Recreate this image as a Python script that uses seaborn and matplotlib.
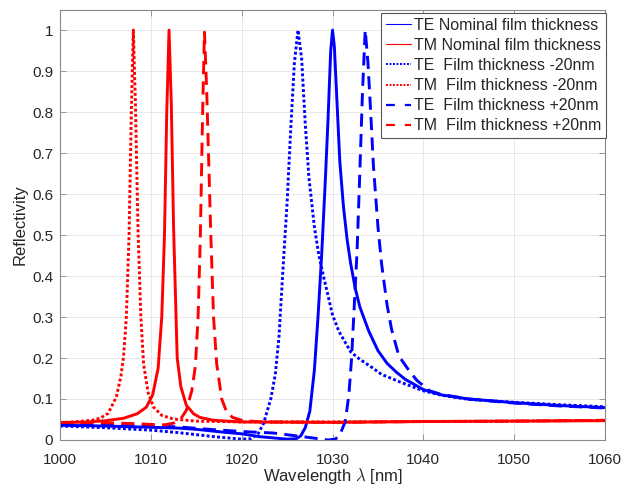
import matplotlib
matplotlib.use("Agg")
import matplotlib.pyplot as plt
import pandas as pd
import seaborn as sns

# Reflectivity spectra of the grating for TE / TM polarisation at three film thicknesses
te_nom_wl = [1000, 1005, 1010, 1013, 1015, 1018, 1020, 1022, 1024, 1025,
             1026, 1026.5, 1027, 1027.5, 1028, 1028.4, 1028.8, 1029.2, 1029.5, 1029.8,
             1030, 1030.2, 1030.5, 1030.8, 1031.2, 1031.6, 1032, 1032.5, 1033, 1034,
             1035, 1036, 1037, 1038, 1040, 1042, 1045, 1050, 1055, 1060]
te_nom_r = [0.036, 0.034, 0.031, 0.029, 0.026, 0.019, 0.015, 0.008, 0.004, 0.002,
            0.003, 0.010, 0.030, 0.070, 0.170, 0.300, 0.450, 0.630, 0.780, 0.950,
            1.000, 0.960, 0.820, 0.680, 0.570, 0.490, 0.430, 0.370, 0.325, 0.265,
            0.218, 0.187, 0.166, 0.148, 0.123, 0.110, 0.100, 0.091, 0.084, 0.079]

tm_nom_wl = [1000, 1003, 1005, 1007, 1008.5, 1009.5, 1010.2, 1010.8, 1011.2, 1011.5,
             1011.75, 1012, 1012.25, 1012.5, 1012.9, 1013.3, 1013.9, 1014.7, 1015.4, 1016.9,
             1020, 1030, 1040, 1050, 1060]
tm_nom_r = [0.042, 0.044, 0.047, 0.053, 0.064, 0.080, 0.110, 0.175, 0.300, 0.500,
            0.800, 1.000, 0.820, 0.520, 0.200, 0.130, 0.085, 0.064, 0.055, 0.048,
            0.044, 0.043, 0.045, 0.046, 0.047]

te_thin_wl = [1000, 1005, 1010, 1013, 1017, 1020, 1021, 1021.8, 1022.4, 1022.8,
              1023.2, 1023.7, 1024.1, 1024.5, 1025, 1025.4, 1025.8, 1026.2, 1026.6, 1027,
              1027.4, 1028, 1028.5, 1029, 1030, 1030.7, 1032, 1033, 1034.4, 1035.4,
              1037.6, 1040, 1042, 1045, 1050, 1055, 1060]
te_thin_r = [0.034, 0.030, 0.024, 0.018, 0.008, 0.002, 0.003, 0.015, 0.040, 0.070,
             0.100, 0.160, 0.250, 0.400, 0.580, 0.760, 0.920, 1.000, 0.930, 0.770,
             0.640, 0.520, 0.450, 0.400, 0.305, 0.265, 0.215, 0.197, 0.176, 0.160,
             0.140, 0.120, 0.109, 0.099, 0.092, 0.086, 0.081]

tm_thin_wl = [1000, 1002, 1003.5, 1004.4, 1005.3, 1006.2, 1006.7, 1007, 1007.3, 1007.6,
              1007.85, 1008.07, 1008.3, 1008.6, 1008.9, 1009.2, 1009.7, 1010.3, 1011.2, 1012.5,
              1015, 1020, 1030, 1040, 1050, 1060]
tm_thin_r = [0.042, 0.045, 0.048, 0.053, 0.065, 0.105, 0.155, 0.205, 0.300, 0.500,
             0.800, 1.000, 0.820, 0.500, 0.300, 0.185, 0.115, 0.080, 0.060, 0.051,
             0.046, 0.044, 0.044, 0.045, 0.046, 0.048]

te_thick_wl = [1000, 1005, 1010, 1013, 1017, 1020.6, 1023.5, 1026, 1028.5, 1029.5,
               1030.3, 1030.8, 1031.4, 1031.8, 1032.1, 1032.4, 1032.7, 1033, 1033.3, 1033.6,
               1033.9, 1034.2, 1034.5, 1035, 1035.4, 1036, 1036.5, 1037.3, 1038.4, 1039.3,
               1040.7, 1042, 1045, 1050, 1055, 1060]
te_thick_r = [0.037, 0.036, 0.034, 0.032, 0.025, 0.020, 0.017, 0.010, 0.003, 0.000,
              0.002, 0.012, 0.045, 0.110, 0.200, 0.330, 0.460, 0.650, 0.850, 1.000,
              0.920, 0.800, 0.670, 0.520, 0.430, 0.330, 0.270, 0.205, 0.170, 0.145,
              0.120, 0.111, 0.100, 0.090, 0.083, 0.078]

tm_thick_wl = [1000, 1005, 1008, 1010, 1011.5, 1012.5, 1013.3, 1013.9, 1014.5, 1014.9,
               1015.2, 1015.45, 1015.7, 1015.9, 1016.15, 1016.6, 1016.9, 1017.25, 1017.8, 1018.35,
               1019, 1020, 1022, 1030, 1040, 1050, 1060]
tm_thick_r = [0.043, 0.042, 0.040, 0.038, 0.037, 0.041, 0.052, 0.072, 0.120, 0.180,
              0.300, 0.500, 0.800, 0.995, 0.850, 0.500, 0.300, 0.185, 0.100, 0.068,
              0.055, 0.048, 0.044, 0.043, 0.045, 0.046, 0.048]

curve_labels = ["TE Nominal film thickness",
                "TM Nominal film thickness",
                "TE  Film thickness -20nm",
                "TM  Film thickness -20nm",
                "TE  Film thickness +20nm",
                "TM  Film thickness +20nm"]

x_ticks = [1000, 1010, 1020, 1030, 1040, 1050, 1060]
y_ticks = [0, 0.1, 0.2, 0.3, 0.4, 0.5, 0.6, 0.7, 0.8, 0.9, 1.0]
y_tick_labels = ["0", "0.1", "0.2", "0.3", "0.4", "0.5", "0.6", "0.7", "0.8", "0.9", "1"]

series = [(te_nom_wl, te_nom_r), (tm_nom_wl, tm_nom_r),
          (te_thin_wl, te_thin_r), (tm_thin_wl, tm_thin_r),
          (te_thick_wl, te_thick_r), (tm_thick_wl, tm_thick_r)]

frames = []
for label, (wl, r) in zip(curve_labels, series):
    frames.append(pd.DataFrame({"wavelength": wl, "reflectivity": r, "curve": label}))
data = pd.concat(frames, ignore_index=True)

sns.set_theme(style="whitegrid")
plt.rcParams["font.family"] = ["Liberation Sans", "DejaVu Sans"]
plt.rcParams["mathtext.fontset"] = "cm"

colors = ["#0000ff", "#ff0000", "#0000ff", "#ff0000", "#0000ff", "#ff0000"]
styles = ["-", "-", (0, (1.0, 0.8)), (0, (1.0, 0.8)), (0, (4.5, 2.5)), (0, (4.5, 2.5))]

fig = plt.figure(figsize=(6.24, 4.88), dpi=100)
ax = fig.add_axes([0.0962, 0.0984, 0.8734, 0.8811])

for label, color, ls in zip(curve_labels, colors, styles):
    sub = data[data["curve"] == label]
    sns.lineplot(data=sub, x="wavelength", y="reflectivity", ax=ax, color=color,
                 linestyle=ls, linewidth=2.1, label=label, errorbar=None)

ax.set_xlim(1000, 1060)
ax.set_ylim(0, 1.049)
ax.set_xticks(x_ticks)
ax.set_yticks(y_ticks)
ax.set_yticklabels(y_tick_labels)
ax.set_xlabel(r"Wavelength $\lambda$ [nm]", fontsize=12, color="#262626", labelpad=-1)
ax.set_ylabel("Reflectivity", fontsize=12, color="#262626", labelpad=3)

ax.set_facecolor("white")
ax.grid(True, color="#e8e8e8", linewidth=0.7)
for spine in ax.spines.values():
    spine.set_color("#8a8a8a")
    spine.set_linewidth(0.8)
ax.tick_params(direction="in", length=4, width=0.6, color="#8a8a8a",
               labelcolor="#262626", labelsize=11, top=True, right=True,
               bottom=True, left=True)
ax.tick_params(axis="x", pad=9.5)
ax.tick_params(axis="y", pad=5)

handles, labels = ax.get_legend_handles_labels()
leg = ax.legend(handles, labels, loc="upper right", bbox_to_anchor=(1.001, 0.993),
                fontsize=11.5, frameon=True, fancybox=False, edgecolor="#555555",
                framealpha=1.0, borderaxespad=0.0, borderpad=0.3, labelspacing=0.32,
                handlelength=1.6, handletextpad=0.15)
leg.get_frame().set_linewidth(0.8)
legend_widths = [0.8, 0.8, 1.4, 1.4, 1.6, 1.6]
legend_styles = ["-", "-", (0, (1.0, 0.8)), (0, (1.0, 0.8)), (0, (4.0, 4.5)), (0, (4.0, 4.5))]
for line, lw, ls in zip(leg.get_lines(), legend_widths, legend_styles):
    line.set_linewidth(lw)
    line.set_linestyle(ls)

fig.savefig("out.png", dpi=100, facecolor="white")
